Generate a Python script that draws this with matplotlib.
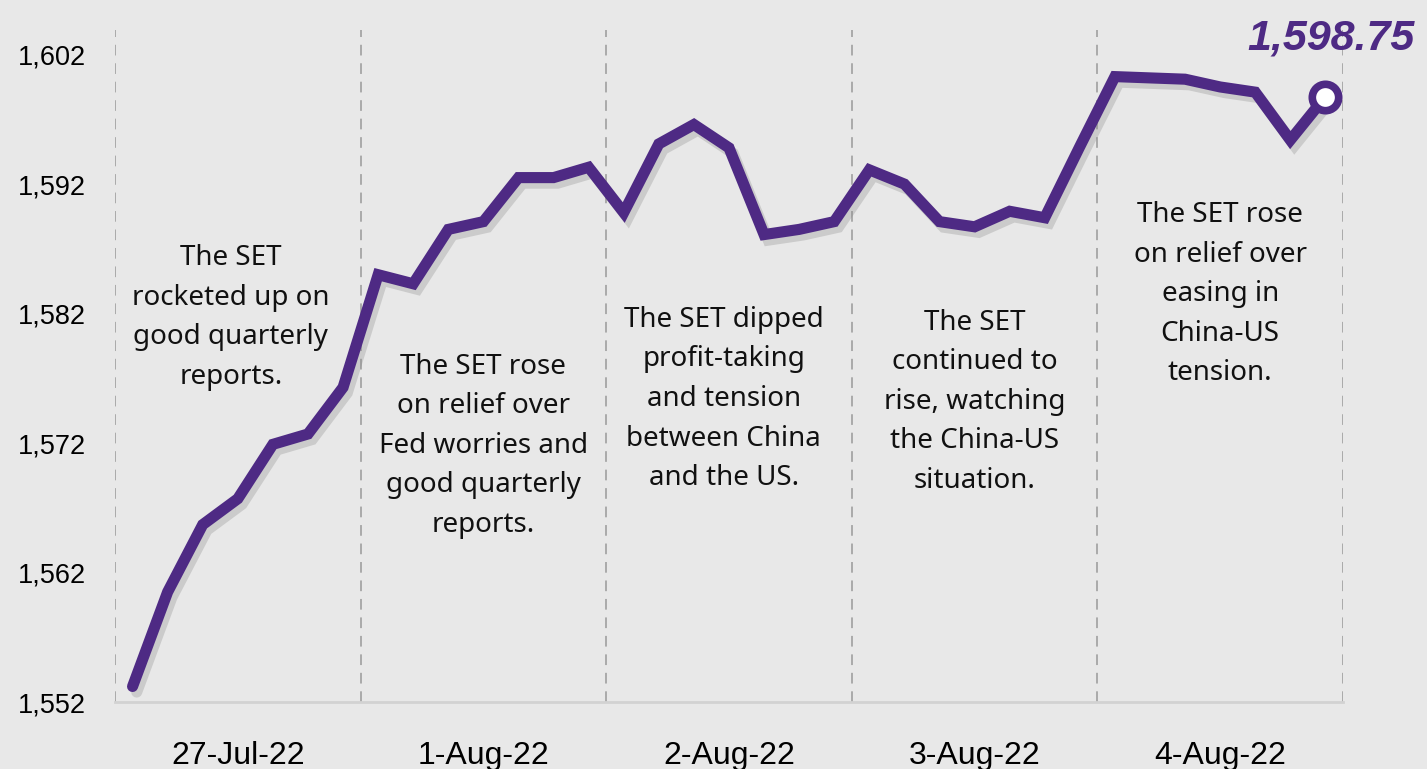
import matplotlib
matplotlib.use("Agg")
import matplotlib.pyplot as plt
import matplotlib.patheffects as pe

# SET index, 7 readings per day
set_index = [1553.2, 1560.5, 1565.7, 1567.7, 1571.9, 1572.7, 1576.3,
             1585.0, 1584.3, 1588.5, 1589.1, 1592.5, 1592.5, 1593.3,
             1589.8, 1595.1, 1596.6, 1594.8, 1588.1, 1588.5, 1589.1,
             1593.1, 1592.0, 1589.1, 1588.7, 1589.9, 1589.4, 1594.9,
             1600.3, 1600.2, 1600.1, 1599.5, 1599.1, 1595.4, 1598.75]
day_labels = ['27-Jul-22', '1-Aug-22', '2-Aug-22', '3-Aug-22', '4-Aug-22']
y_ticks = [1552, 1562, 1572, 1582, 1592, 1602]
notes = [
    "The SET\nrocketed up on\ngood quarterly\nreports.",
    "The SET rose\non relief over\nFed worries and\ngood quarterly\nreports.",
    "The SET dipped\nprofit-taking\nand tension\nbetween China\nand the US.",
    "The SET\ncontinued to\nrise, watching\nthe China-US\nsituation.",
    "The SET rose\non relief over\neasing in\nChina-US\ntension.",
]
note_y = [1581.7, 1571.8, 1575.4, 1575.2, 1583.5]
note_dx = [-0.2, 0.0, -0.15, 0.0, 0.0]
last_label = '1,598.75'

bg = '#e8e8e8'
purple = '#4e2a84'
per_day = 7

fig = plt.figure(figsize=(14.27, 7.69), dpi=100, facecolor=bg)
ax = fig.add_axes([0.0806, 0.0871, 0.8605, 0.8739])
ax.set_facecolor(bg)

x = list(range(len(set_index)))
ax.plot(x, set_index, color=purple, lw=8, solid_joinstyle='miter',
        solid_capstyle='round', zorder=3,
        path_effects=[pe.SimpleLineShadow(offset=(3, -4), shadow_color='#888888', alpha=0.3),
                      pe.Normal()])
ax.plot(x[-1], set_index[-1], 'o', ms=19, mfc='white', mec=purple, mew=5.5, zorder=4)
ax.text(x[-1] + 0.15, set_index[-1] + 4.5, last_label, color=purple, fontsize=31,
        fontweight='bold', fontstyle='italic', family=['Liberation Sans'],
        ha='center', va='center', zorder=5)

# day separators
for k in range(len(day_labels) + 1):
    ax.axvline(k * per_day - 0.5, color='#aaaaaa', lw=1.4, ls=(0, (5.5, 4)), zorder=1)

for k, note in enumerate(notes):
    ax.text(k * per_day + 3 + note_dx[k], note_y[k], note, ha='center', va='center',
            fontsize=20, family=['Noto Sans'], linespacing=1.55, color='#111111', zorder=2)

ax.set_xlim(-0.5, len(set_index) - 0.5)
ax.set_ylim(1552, 1603.9)
ax.set_yticks(y_ticks)
ax.set_yticklabels(['{:,}'.format(v) for v in y_ticks], fontsize=19.5, family=['Liberation Sans'])
ax.set_xticks([k * per_day + 3 for k in range(len(day_labels))])
ax.set_xticklabels(day_labels, fontsize=23, family=['Liberation Sans'])
ax.tick_params(axis='both', length=0)
ax.tick_params(axis='y', pad=21)
ax.tick_params(axis='x', pad=28)

for s in ['left', 'right', 'top']:
    ax.spines[s].set_visible(False)
ax.spines['bottom'].set_color('#d2d2d2')
ax.spines['bottom'].set_linewidth(2)

fig.savefig('out.png', dpi=100, facecolor=bg)
